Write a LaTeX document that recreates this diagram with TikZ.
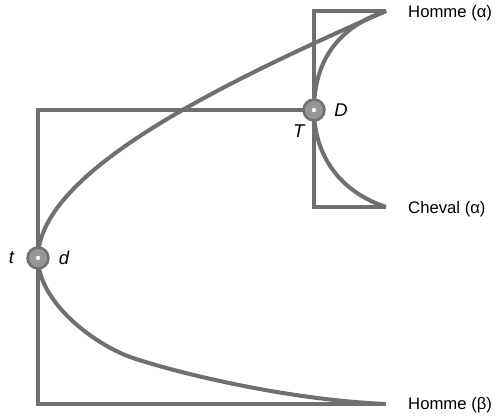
\documentclass[tikz,border=0pt]{standalone}
\usepackage{fontspec}
\setmainfont{Liberation Sans}
\usetikzlibrary{positioning}
\definecolor{traitgris}{RGB}{112,112,112}
\definecolor{rotulegris}{RGB}{150,150,150}

\begin{document}
\begin{tikzpicture}[
    x=0.02cm, y=-0.02cm,
    trait/.style={line width=2.3pt, traitgris},
    rotule/.style={circle, draw=traitgris, line width=1.4pt, fill=rotulegris,
        minimum size=0.42cm, inner sep=0pt},
    etiquette/.style={font=\fontsize{9.5}{11}\selectfont, anchor=west},
    lettre/.style={font=\fontsize{10.5}{12}\selectfont\itshape}
]

\useasboundingbox (0,0) rectangle (497,416);

% Points

\coordinate (t) at (38,258);
\coordinate (D) at (314,110);
\coordinate (coin) at (38,110);
\coordinate (bas) at (38,404);
\coordinate (pointeH) at (386,404);
\coordinate (hautC) at (314,11);
\coordinate (pointeA) at (386,11);
\coordinate (basC) at (314,207);
\coordinate (pointeC) at (386,207);
\coordinate (milieu) at (130,357);


% Bâti

\draw[trait] (D) -- (coin) -- (bas) -- (pointeH);
\draw[trait] (pointeA) -- (hautC) -- (basC) -- (pointeC);


% Courbes

\draw[trait] (t) .. controls (38,172) and (222,83) .. (pointeA);

\draw[trait] (t) .. controls (38,300) and (90,342) .. (milieu)
    .. controls (180,374) and (290,400) .. (pointeH);

\draw[trait] (D) .. controls (314,70) and (330,30) .. (pointeA);

\draw[trait] (D) .. controls (314,150) and (335,190) .. (pointeC);


% Rotules

\node[rotule] (rt) at (t) {};
\fill[white] (rt.center) circle (2.2);
\node[rotule] (rD) at (D) {};
\fill[white] (rD.center) circle (2.2);

\node[lettre, left=0.12cm of rt] {t};
\node[lettre, right=0.06cm of rt] {d};
\node[lettre, right=0.05cm of rD] {D};
\node[lettre, below left=0cm and -0.1cm of rD] {T};


% Noms

\node[etiquette] (hommea) at (402,13) {Homme (α)};
\node[etiquette] (chevala) at (402,209) {Cheval (α)};
\node[etiquette] (hommeb) at (402,405) {Homme (β)};

\end{tikzpicture}
\end{document}
